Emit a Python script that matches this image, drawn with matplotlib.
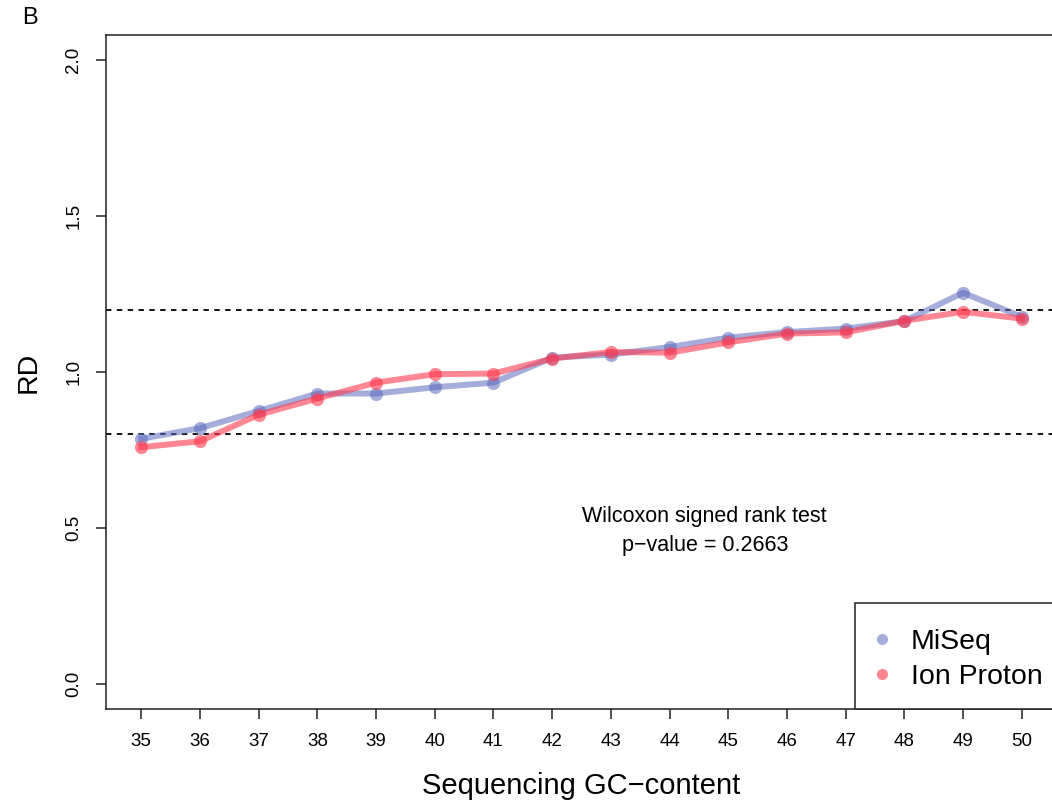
import matplotlib
matplotlib.use("Agg")
import matplotlib.pyplot as plt
from matplotlib.lines import Line2D
from matplotlib.patches import Rectangle

plt.rcParams['font.family'] = ['Liberation Sans', 'DejaVu Sans']

gc = [35, 36, 37, 38, 39, 40, 41, 42, 43, 44, 45, 46, 47, 48, 49, 50]
miseq = [0.786, 0.820, 0.875, 0.931, 0.931, 0.951, 0.966, 1.046, 1.056, 1.080,
         1.110, 1.128, 1.139, 1.163, 1.254, 1.177]
ion_proton = [0.759, 0.778, 0.863, 0.915, 0.966, 0.993, 0.995, 1.043, 1.064, 1.062,
              1.095, 1.123, 1.127, 1.164, 1.193, 1.171]
thresholds = [0.8, 1.2]
yticks = [0.0, 0.5, 1.0, 1.5, 2.0]

blue = (0.36, 0.42, 0.74)
red = (1.0, 0.22, 0.30)

W, H = 1052, 802
fig = plt.figure(figsize=(W / 100, H / 100), dpi=100)
ax = fig.add_axes([106 / W, (H - 709) / H, (1057 - 106) / W, (709 - 35) / H])

ax.plot(gc, miseq, '-o', color=blue, alpha=0.55, lw=4.3, ms=9.5, mew=0, zorder=3)
ax.plot(gc, ion_proton, '-o', color=red, alpha=0.6, lw=4.3, ms=9.5, mew=0, zorder=3)

for t in thresholds:
    ax.axhline(t, color='black', lw=1.3, ls=(0, (3, 3)), zorder=2)

ax.set_xlim(34.4, 50.6)
ax.set_ylim(-0.08, 2.08)
ax.set_xticks(gc)
ax.set_xticklabels([str(g) for g in gc], fontsize=13.5)
ax.set_yticks(yticks)
ax.set_yticklabels([f"{v:.1f}" for v in yticks], fontsize=13.5, rotation=90, va='center')
ax.tick_params(axis='both', length=7, width=1.1, direction='out', color='#222222')
ax.tick_params(axis='x', pad=10)
ax.tick_params(axis='y', pad=10)
for s in ax.spines.values():
    s.set_linewidth(1.1)
    s.set_color('#222222')

ax.set_xlabel("Sequencing GC\u2212content", fontsize=21, labelpad=16)
ax.set_ylabel("RD", fontsize=20.5, labelpad=17)

ax.text(44.6, 0.49, "Wilcoxon signed rank test\np\u2212value = 0.2663",
        ha='center', va='center', fontsize=15.5, linespacing=1.5)

# legend frame (extends past the right edge, as in the reference)
fig.add_artist(Rectangle((855 / W, (H - 709) / H), (1070 - 855) / W, (709 - 603) / H,
                         transform=fig.transFigure, fill=True, facecolor='white',
                         edgecolor='#222222', lw=1.1, zorder=5))

handles = [Line2D([], [], marker='o', ls='none', color=blue, alpha=0.55, ms=8, mew=0),
           Line2D([], [], marker='o', ls='none', color=red, alpha=0.6, ms=8, mew=0)]
leg = fig.legend(handles, ["MiSeq", "Ion Proton"], loc='upper left',
                 bbox_to_anchor=(868 / W, 1 - 629 / H), borderaxespad=0, borderpad=0,
                 fontsize=20.5, frameon=False,
                 handletextpad=0.5, labelspacing=0.32, handlelength=1.0)
leg.set_zorder(6)

fig.text(22 / W, 1 - 18 / H, "B", fontsize=17, ha='left', va='center')

fig.savefig("out.png", dpi=100)
